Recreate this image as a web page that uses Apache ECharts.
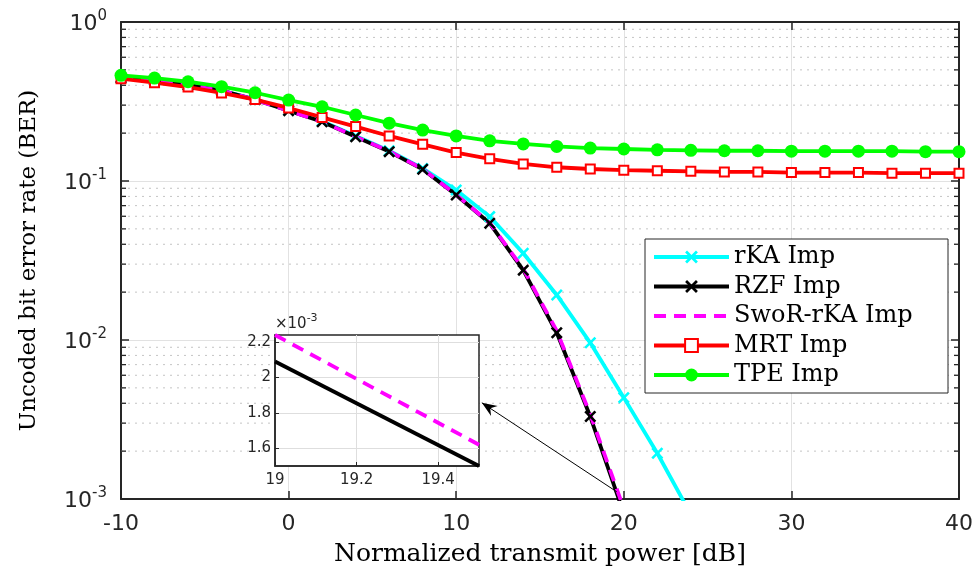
<!DOCTYPE html>
<html>
<head>
<meta charset="utf-8">
<script src="https://cdn.jsdelivr.net/npm/echarts@6/dist/echarts.min.js"></script>
<style>
  html, body { margin: 0; padding: 0; background: #fff; }
  #chart { width: 976px; height: 574px; }
</style>
</head>
<body>
<div id="chart"></div>
<script>
// ---------- data ----------
const powerDb = [-10, -8, -6, -4, -2, 0, 2, 4, 6, 8, 10, 12, 14, 16, 18, 20, 22, 24, 26, 28, 30, 32, 34, 36, 38, 40];

const rkaImp  = [0.445, 0.428, 0.402, 0.370, 0.326, 0.279, 0.238, 0.192, 0.155, 0.120, 0.0878, 0.0597, 0.0351, 0.0192, 0.0096, 0.00434, 0.00194, 0.00080, null, null, null, null, null, null, null, null];
const rzfImp  = [0.445, 0.428, 0.402, 0.370, 0.325, 0.277, 0.236, 0.190, 0.153, 0.1185, 0.0817, 0.0542, 0.0275, 0.0111, 0.0033, 0.00081, null, null, null, null, null, null, null, null, null, null];
const sworImp = [0.445, 0.428, 0.402, 0.370, 0.325, 0.277, 0.236, 0.190, 0.154, 0.119, 0.0820, 0.0545, 0.0280, 0.0114, 0.0034, 0.00087, null, null, null, null, null, null, null, null, null, null];
const mrtImp  = [0.440, 0.415, 0.390, 0.358, 0.325, 0.288, 0.251, 0.220, 0.192, 0.170, 0.151, 0.138, 0.128, 0.122, 0.119, 0.117, 0.116, 0.115, 0.114, 0.114, 0.113, 0.113, 0.113, 0.112, 0.112, 0.112];
const tpeImp  = [0.462, 0.444, 0.421, 0.392, 0.359, 0.323, 0.293, 0.260, 0.231, 0.209, 0.192, 0.179, 0.171, 0.165, 0.161, 0.159, 0.157, 0.156, 0.155, 0.155, 0.154, 0.154, 0.154, 0.154, 0.153, 0.153];

const seriesNames = ['rKA Imp', 'RZF Imp', 'SwoR-rKA Imp', 'MRT Imp', 'TPE Imp'];

// minor (dotted) grid values of the log axis
const yMinorTicks = [0.002, 0.003, 0.004, 0.005, 0.006, 0.007, 0.008, 0.009,
                     0.02, 0.03, 0.04, 0.05, 0.06, 0.07, 0.08, 0.09,
                     0.2, 0.3, 0.4, 0.5, 0.6, 0.7, 0.8, 0.9];

// inset (zoom) data, y in units of 1e-3
const insetX    = [19, 19.5];
const insetRzf  = [2.09, 1.50];
const insetSwor = [2.24, 1.62];

const xMin = -10, xMax = 40, xStep = 10;
const yMin = 0.001, yMax = 1;

// ---------- helpers ----------
const pair = (xs, ys) => xs.map((x, i) => [x, ys[i]]);
const axisCol = '#262626';
const sans = 'DejaVu Sans';
const serif = 'DejaVu Serif';
const xMark = 'path://M0,1.5L1.5,0L5,3.5L8.5,0L10,1.5L6.5,5L10,8.5L8.5,10L5,6.5L1.5,10L0,8.5L3.5,5Z';

const chart = echarts.init(document.getElementById('chart'), null, { renderer: 'canvas' });

const supLabel = v => '{b|10}{s|' + Math.round(Math.log10(v)) + '}';

const option = {
  animation: false,
  backgroundColor: '#fff',
  grid: [
    { left: 121, top: 22, width: 838, height: 477, show: false },
    { left: 275, top: 335, width: 204, height: 131, show: true, z: 5,
      backgroundColor: '#fff', borderColor: axisCol, borderWidth: 1.5 }
  ],
  legend: {
    data: [
      { name: seriesNames[0] },
      { name: seriesNames[1] },
      { name: seriesNames[2], itemStyle: { opacity: 0 } },
      { name: seriesNames[3] },
      { name: seriesNames[4] }
    ],
    orient: 'vertical',
    left: 645, top: 239,
    itemWidth: 75, itemHeight: 16, itemGap: 5.5,
    padding: [6, 9, 6, 7],
    backgroundColor: '#fff',
    borderColor: axisCol, borderWidth: 1,
    lineStyle: { width: 4 },
    textStyle: { fontFamily: serif, fontSize: 24, color: '#000', width: 205, lineHeight: 24 }
  },
  xAxis: [
    { type: 'value', gridIndex: 0, min: xMin, max: xMax, interval: xStep, position: 'bottom',
      name: 'Normalized transmit power [dB]', nameLocation: 'middle', nameGap: 43,
      nameTextStyle: { fontFamily: serif, fontSize: 25, color: '#000' },
      axisLine: { onZero: false, lineStyle: { color: axisCol, width: 2 } },
      axisTick: { inside: true, length: 8, lineStyle: { color: axisCol, width: 1.5 } },
      axisLabel: { fontFamily: sans, fontSize: 22, color: axisCol, margin: 14 },
      splitLine: { show: true, lineStyle: { color: '#e2e2e2', width: 1 } } },
    { type: 'value', gridIndex: 0, min: xMin, max: xMax, interval: xStep, position: 'top',
      axisLine: { onZero: false, lineStyle: { color: axisCol, width: 2 } },
      axisTick: { inside: true, length: 8, lineStyle: { color: axisCol, width: 1.5 } },
      axisLabel: { show: false }, splitLine: { show: false } },
    { type: 'value', gridIndex: 1, min: 19, max: 19.5, interval: 0.2, z: 6,
      axisLine: { onZero: false, lineStyle: { color: axisCol, width: 1.5 } },
      axisTick: { inside: true, length: 4, lineStyle: { color: axisCol } },
      axisLabel: { fontFamily: sans, fontSize: 15, color: axisCol, margin: 7, showMaxLabel: false },
      splitLine: { show: true, showMinLine: false, showMaxLine: false, lineStyle: { color: '#dedede' } } }
  ],
  yAxis: [
    { type: 'log', logBase: 10, gridIndex: 0, min: yMin, max: yMax, position: 'left',
      name: 'Uncoded bit error rate (BER)', nameLocation: 'middle', nameGap: 80,
      nameTextStyle: { fontFamily: serif, fontSize: 23, color: '#000' },
      axisLine: { show: true, onZero: false, lineStyle: { color: axisCol, width: 2 } },
      axisTick: { show: true, inside: true, length: 8, lineStyle: { color: axisCol, width: 1.5 } },
      axisLabel: { formatter: supLabel, margin: 14,
        rich: {
          b: { fontFamily: sans, fontSize: 22, color: axisCol, verticalAlign: 'bottom' },
          s: { fontFamily: sans, fontSize: 15, color: axisCol, verticalAlign: 'bottom', padding: [0, 0, 11, 0] }
        } },
      splitLine: { show: true, lineStyle: { color: '#e2e2e2', width: 1 } } },
    { type: 'log', logBase: 10, gridIndex: 0, min: yMin, max: yMax, position: 'right',
      axisLine: { show: true, onZero: false, lineStyle: { color: axisCol, width: 2 } },
      axisTick: { show: true, inside: true, length: 8, lineStyle: { color: axisCol, width: 1.5 } },
      axisLabel: { show: false }, splitLine: { show: false } },
    { type: 'value', gridIndex: 1, min: 1.5, max: 2.24, splitNumber: 4, z: 6,
      name: '{m|\u00d710}{s|-3}', nameLocation: 'end', nameGap: 3,
      nameTextStyle: { align: 'left', verticalAlign: 'bottom', padding: [0, 0, 0, 0],
        rich: {
          m: { fontFamily: sans, fontSize: 15, color: axisCol, verticalAlign: 'bottom' },
          s: { fontFamily: sans, fontSize: 11, color: axisCol, verticalAlign: 'bottom', padding: [0, 0, 8, 0] }
        } },
      axisLine: { show: true, onZero: false, lineStyle: { color: axisCol, width: 1.5 } },
      axisTick: { show: true, inside: true, length: 4, lineStyle: { color: axisCol } },
      axisLabel: { fontFamily: sans, fontSize: 15, color: axisCol, margin: 4, showMinLabel: false, showMaxLabel: false },
      splitLine: { show: true, showMinLine: false, showMaxLine: false, lineStyle: { color: '#dedede' } } }
  ],
  series: [
    { type: 'custom', name: 'minor-grid', xAxisIndex: 0, yAxisIndex: 0, silent: true, z: 1,
      data: yMinorTicks.map(v => [xMin, v]),
      renderItem: (params, api) => {
        const cs = params.coordSys;
        const y = api.coord([api.value(0), api.value(1)])[1];
        return { type: 'group', children: [
          { type: 'line', shape: { x1: cs.x, y1: y, x2: cs.x + cs.width, y2: y },
            style: { stroke: '#c4c4c4', lineWidth: 1, lineDash: [2, 5] } },
          { type: 'line', shape: { x1: cs.x, y1: y, x2: cs.x + 5, y2: y },
            style: { stroke: axisCol, lineWidth: 1.3 } },
          { type: 'line', shape: { x1: cs.x + cs.width - 5, y1: y, x2: cs.x + cs.width, y2: y },
            style: { stroke: axisCol, lineWidth: 1.3 } }
        ] };
      } },
    { type: 'line', name: seriesNames[0], data: pair(powerDb, rkaImp), clip: true, z: 2,
      symbol: xMark, symbolSize: 12, showAllSymbol: true,
      lineStyle: { color: '#00ffff', width: 3.8 }, itemStyle: { color: '#00ffff' } },
    { type: 'line', name: seriesNames[1], data: pair(powerDb, rzfImp), clip: true, z: 2,
      symbol: xMark, symbolSize: 12, showAllSymbol: true,
      lineStyle: { color: '#000000', width: 3.8 }, itemStyle: { color: '#000000' } },
    { type: 'line', name: seriesNames[2], data: pair(powerDb, sworImp), clip: true, z: 2,
      showSymbol: false, symbol: 'none',
      lineStyle: { color: '#ff00ff', width: 3.8, type: [12, 8] }, itemStyle: { color: '#ff00ff' } },
    { type: 'line', name: seriesNames[3], data: pair(powerDb, mrtImp), clip: true, z: 2,
      symbol: 'emptyRect', symbolSize: 9, showAllSymbol: true,
      lineStyle: { color: '#ff0000', width: 3.8 }, itemStyle: { color: '#ff0000', borderColor: '#ff0000', borderWidth: 4 } },
    { type: 'line', name: seriesNames[4], data: pair(powerDb, tpeImp), clip: true, z: 2,
      symbol: 'circle', symbolSize: 13, showAllSymbol: true,
      lineStyle: { color: '#00ff00', width: 3.8 }, itemStyle: { color: '#00ff00' } },
    { type: 'line', name: 'RZF Imp (zoom)', xAxisIndex: 2, yAxisIndex: 2, z: 7, clip: true,
      data: pair(insetX, insetRzf), showSymbol: false, symbol: 'none',
      lineStyle: { color: '#000000', width: 3.8 } },
    { type: 'line', name: 'SwoR-rKA Imp (zoom)', xAxisIndex: 2, yAxisIndex: 2, z: 7, clip: true,
      data: pair(insetX, insetSwor), showSymbol: false, symbol: 'none',
      lineStyle: { color: '#ff00ff', width: 3.8, type: [12, 8] } }
  ]
};

chart.setOption(option);

// arrow from the main curve to the inset
const tail = chart.convertToPixel({ xAxisIndex: 0, yAxisIndex: 0 }, [19.58, 0.00111]);
const head = chart.convertToPixel({ xAxisIndex: 2, yAxisIndex: 2 }, [19.507, 1.857]);
const ang = Math.atan2(head[1] - tail[1], head[0] - tail[0]);
const back = (d, off) => [head[0] - d * Math.cos(ang) - off * Math.sin(ang),
                          head[1] - d * Math.sin(ang) + off * Math.cos(ang)];
chart.setOption({
  graphic: [
    { type: 'line', z: 100, silent: true,
      shape: { x1: tail[0], y1: tail[1], x2: head[0], y2: head[1] },
      style: { stroke: '#000', lineWidth: 1 } },
    { type: 'polygon', z: 100, silent: true,
      shape: { points: [head, back(15, 6), back(10, 0), back(15, -6)] },
      style: { fill: '#000' } }
  ]
});
</script>
</body>
</html>
